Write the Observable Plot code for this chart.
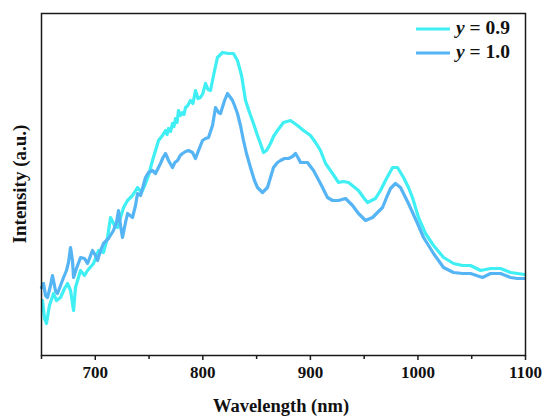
<!DOCTYPE html>
<html>
<head>
<meta charset="utf-8">
<script src="https://cdn.jsdelivr.net/npm/d3@7"></script>
<script src="https://cdn.jsdelivr.net/npm/@observablehq/plot@0.6"></script>
<style>
  html, body { margin: 0; padding: 0; background: #fff; }
  #chart { width: 544px; height: 419px; }
  #chart svg, #chart svg text { font-family: "Liberation Serif", "DejaVu Serif", serif !important; }
</style>
</head>
<body>
<div id="chart"></div>
<script>
const seriesNames = ["y = 0.9", "y = 1.0"];
const seriesColors = ["#3FEFF3", "#55B4F4"];

const wavelength09 = [650.9,652.8,654.6,657.4,661.2,664.0,667.7,671.4,674.2,677.0,679.8,681.6,686.3,690.0,692.8,698.4,703.0,707.6,711.4,714.2,717.9,720.7,726.3,730.0,734.6,739.3,743.0,746.7,749.5,753.2,756.0,758.8,762.5,765.3,766.7,768.1,770.0,771.8,773.2,774.6,776.0,777.4,779.3,781.1,782.5,783.9,786.0,788.5,790.8,793.2,795.5,797.8,800.0,802.5,804.8,807.1,810.9,813.6,818.3,823.9,828.5,832.2,836.0,839.7,843.4,847.1,850.8,853.6,856.4,859.2,862.9,865.7,869.4,875.0,881.5,888.0,893.6,900.1,904.8,909.4,914.1,920.6,926.2,930.8,935.5,940.1,944.7,949.4,953.1,956.8,960.5,965.2,969.8,976.4,981.0,986.6,991.2,994.9,1000.5,1007.0,1014.5,1023.8,1033.1,1041.4,1048.9,1058.2,1067.5,1076.8,1086.1,1092.6,1099.1];
const intensity09 = [55,37,32,50,62,55,58,67,72,65,45,68,85,80,85,92,105,103,118,138,130,128,148,155,160,168,163,172,180,195,205,215,220,225,221,227,224,232,229,237,233,245,240,243,241,248,250,255,252,265,257,258,262,272,266,265,285,298,303,302,302,295,280,255,243,232,220,212,203,205,212,219,225,233,235,230,225,220,213,205,192,182,173,174,173,169,165,158,153,155,157,165,175,188,188,178,168,158,138,122,110,98,92,90,90,85,87,87,83,82,81];

const wavelength10 = [650.0,651.9,653.7,655.6,658.4,660.2,663.0,664.9,667.7,670.5,673.2,675.1,677.0,678.8,679.8,682.5,686.3,690.0,692.8,697.4,700.2,702.1,704.9,707.6,712.3,716.9,719.7,721.6,723.5,725.3,728.1,730.0,734.6,737.4,739.3,742.1,746.7,749.5,753.2,756.0,760.6,763.0,765.3,768.1,771.8,774.0,776.5,779.0,781.1,784.0,786.7,790.4,793.2,796.0,799.7,802.5,805.3,809.0,811.8,814.6,816.4,820.2,822.9,825.7,827.6,829.5,832.2,835.0,837.8,840.6,844.3,848.0,850.8,855.5,860.1,862.9,865.7,869.4,872.2,875.9,879.7,883.4,886.2,889.0,890.8,897.3,902.9,909.4,915.9,920.6,926.2,932.7,939.2,944.7,951.3,957.8,962.4,967.1,970.8,974.5,979.1,983.8,987.5,991.2,999.6,1005.2,1014.5,1023.8,1033.1,1041.4,1048.9,1060.0,1067.5,1076.8,1086.1,1092.6,1099.1];
const intensity10 = [68,72,60,58,70,80,65,62,70,78,85,93,108,95,78,87,98,97,92,105,100,95,105,112,117,125,133,145,130,118,133,142,138,150,162,160,178,183,185,182,192,198,202,195,188,193,195,200,202,204,205,203,197,205,215,217,218,230,248,243,242,255,262,258,255,250,242,230,215,202,188,175,168,163,168,178,188,193,195,197,197,199,202,197,193,193,185,172,158,155,155,157,150,142,135,138,143,148,158,167,172,168,160,152,132,118,102,88,83,82,82,78,82,82,78,77,77];

const xMajorTicks = [700, 800, 900, 1000, 1100];
const xMinorTicks = [650, 750, 850, 950, 1050];
const xDomain = [650, 1100];
const yDomain = [0, 342];

const data = [
  ...wavelength09.map((w, i) => ({series: seriesNames[0], w, v: intensity09[i]})),
  ...wavelength10.map((w, i) => ({series: seriesNames[1], w, v: intensity10[i]}))
];

const font = '"Liberation Serif", "DejaVu Serif", serif';
const W = 544, H = 419;
const mL = 41, mR = 19, mT = 13, mB = 64;

const plot = Plot.plot({
  width: W, height: H,
  marginLeft: mL, marginRight: mR, marginTop: mT, marginBottom: mB,
  style: {fontFamily: font, fontWeight: "bold", fontSize: "17px", color: "#111", background: "#fff"},
  x: {domain: xDomain},
  y: {domain: yDomain, axis: null},
  color: {domain: seriesNames, range: seriesColors},
  marks: [
    Plot.line(data.filter(d => d.series === seriesNames[0]), {x: "w", y: "v", stroke: "series", strokeWidth: 3.2, strokeLinejoin: "round", strokeLinecap: "round"}),
    Plot.line(data.filter(d => d.series === seriesNames[1]), {x: "w", y: "v", stroke: "series", strokeWidth: 3.2, strokeLinejoin: "round", strokeLinecap: "round"}),
    Plot.frame({stroke: "#1a1a1a", strokeWidth: 1.5}),
    Plot.axisX({ticks: xMajorTicks, tickSize: 5, tickPadding: 5, tickFormat: d => String(d), label: null, stroke: "#1a1a1a", strokeWidth: 1.5}),
    Plot.axisX({ticks: xMinorTicks, tickSize: 4, tickFormat: () => "", label: null, stroke: "#1a1a1a", strokeWidth: 1.5})
  ]
});

document.getElementById("chart").appendChild(plot);

const svg = d3.select(plot);
const cx = (mL + (W - mR)) / 2;
const cy = (mT + (H - mB)) / 2;

svg.append("text")
  .attr("x", cx - 2).attr("y", 408)
  .attr("text-anchor", "middle").attr("dominant-baseline", "middle")
  .style("font-weight", "bold").style("font-size", "18.5px")
  .attr("fill", "#111")
  .text("Wavelength (nm)");

svg.append("text")
  .attr("transform", `translate(22,${cy}) rotate(-90)`)
  .attr("text-anchor", "middle").attr("dominant-baseline", "middle")
  .style("font-weight", "bold").style("font-size", "19px")
  .attr("fill", "#111")
  .text("Intensity (a.u.)");

// legend
const legend = svg.append("g");
seriesNames.forEach((name, i) => {
  const y = 29 + i * 24;
  legend.append("line")
    .attr("x1", 416).attr("x2", 450).attr("y1", y).attr("y2", y)
    .attr("stroke", seriesColors[i]).attr("stroke-width", 3);
  const t = legend.append("text")
    .attr("x", 456).attr("y", y + 1)
    .attr("text-anchor", "start")
    .attr("dominant-baseline", "middle")
    .style("font-weight", "bold").style("font-size", "19.5px")
    .attr("fill", "#111");
  const parts = name.split(" = ");
  t.append("tspan").style("font-style", "italic").text(parts[0]);
  t.append("tspan").text(" = " + parts[1]);
});
</script>
</body>
</html>
